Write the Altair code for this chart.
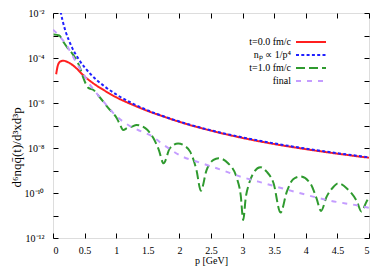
import altair as alt
import pandas as pd

series_names = ["t=0.0 fm/c", "nₚ ∝ 1/p⁴", "t=1.0 fm/c", "final"]

red_p = [0.05, 0.08, 0.12, 0.16, 0.2, 0.27, 0.37, 0.48, 0.64, 0.8, 1.0, 1.27, 1.53, 1.7, 2.0, 2.5, 3.0, 3.5, 4.0, 4.5, 5.0]
red_v = [1.9e-5, 5.0e-5, 7.1e-5, 7.6e-5, 7.2e-5, 5.8e-5, 3.5e-5, 1.7e-5, 7.4e-6, 3.8e-6, 1.8e-6, 8.1e-7, 4.1e-7, 2.8e-7, 1.45e-7, 5.9e-8, 2.8e-8, 1.5e-8, 8.9e-9, 5.6e-9, 3.7e-9]

blue_p = [0.12, 0.15, 0.2, 0.25, 0.3, 0.4, 0.5, 0.6, 0.7, 0.8, 1.0, 1.25, 1.5, 2.0, 2.5, 3.0, 3.5, 4.0, 4.5, 5.0]
blue_v = [1.15e-2, 4.8e-3, 1.5e-3, 6.2e-4, 2.96e-4, 9.4e-5, 3.84e-5, 1.85e-5, 1.0e-5, 5.9e-6, 2.4e-6, 9.8e-7, 4.7e-7, 1.5e-7, 6.1e-8, 2.96e-8, 1.6e-8, 9.4e-9, 5.9e-9, 3.84e-9]

green_p = [0.01, 0.1, 0.16, 0.23, 0.3, 0.43, 0.48, 0.56, 0.64, 0.74, 0.88, 1.01, 1.06, 1.11, 1.18, 1.25, 1.32, 1.46, 1.59, 1.67, 1.75, 1.85, 1.98, 2.08, 2.17, 2.27, 2.34, 2.43, 2.54, 2.62, 2.77, 2.91, 2.97, 3.01, 3.05, 3.1, 3.17, 3.28, 3.38, 3.49, 3.6, 3.7, 3.8, 3.91, 4.07, 4.17, 4.24, 4.33, 4.44, 4.51, 4.65, 4.81, 4.88, 4.96, 5.0]
green_v = [1.1e-3, 1.0e-3, 5.4e-4, 2.8e-4, 1.66e-4, 3.5e-5, 1.3e-5, 4.7e-6, 3.8e-6, 1.8e-6, 5.8e-7, 2.1e-7, 1.1e-7, 6.3e-8, 7.9e-8, 8.9e-8, 1.05e-7, 7.6e-8, 2.7e-8, 8.9e-9, 2.1e-9, 9.8e-9, 1.6e-8, 1.26e-8, 6.9e-9, 1.05e-9, 1.26e-10, 1.05e-9, 2.95e-9, 3.5e-9, 2.1e-9, 4.5e-10, 8e-11, 6.3e-12, 6.3e-11, 2.5e-10, 7.6e-10, 1.4e-9, 8.9e-10, 2.7e-10, 1.35e-11, 1.15e-10, 4.1e-10, 5.4e-10, 2.7e-10, 5.8e-11, 1.6e-11, 6.9e-11, 1.9e-10, 2.7e-10, 1.6e-10, 4.1e-11, 1.5e-11, 4.1e-11, 6.3e-11]

purple_p = [0.0, 0.11, 0.22, 0.3, 0.4, 0.5, 0.6, 0.69, 0.82, 0.98, 1.19, 1.4, 1.53, 1.77, 2.06, 2.27, 2.59, 3.0, 3.25, 3.86, 4.33, 4.91, 5.0]
purple_v = [1.8e-3, 8.9e-4, 3.5e-4, 1.4e-4, 4.5e-5, 1.6e-5, 5.6e-6, 2.7e-6, 9.8e-7, 3.0e-7, 1.05e-7, 5.4e-8, 3.8e-8, 1.26e-8, 4.0e-9, 2.5e-9, 1.26e-9, 5.0e-10, 3.2e-10, 1.07e-10, 4.9e-11, 2.5e-11, 2.2e-11]

x_ticks = [0, 0.5, 1, 1.5, 2, 2.5, 3, 3.5, 4, 4.5, 5]
y_ticks = [1e-12, 1e-11, 1e-10, 1e-9, 1e-8, 1e-7, 1e-6, 1e-5, 1e-4, 1e-3, 1e-2]
y_tick_labels = ["10⁻¹²", "", "10⁻¹⁰", "", "10⁻⁸", "", "10⁻⁶", "", "10⁻⁴", "", "10⁻²"]

colors = ["#ff1f1f", "#2020ff", "#2f9a2f", "#c49cff"]
dashes = [[1, 0], [3, 2.3], [9, 4], [5, 6]]

rows = []
for name, ps, vs in [(series_names[0], red_p, red_v), (series_names[1], blue_p, blue_v),
                     (series_names[2], green_p, green_v), (series_names[3], purple_p, purple_v)]:
    for p, v in zip(ps, vs):
        rows.append({"series": name, "p": p, "v": v})
df = pd.DataFrame(rows)

FONT = "Liberation Serif"
label_js = "[" + ",".join("'%s'" % s for s in y_tick_labels) + "][round(log(datum.value)/LN10)+12]"

x_scale = alt.Scale(domain=[0, 5], nice=False, zero=False)
y_scale = alt.Scale(type="log", domain=[1e-12, 1e-2], nice=False)
inward = alt.ExprRef(expr="-5")

legend = alt.Legend(title=None, orient="none", legendX=252, legendY=23,
                    symbolType="M-3,0H3", symbolSize=100, symbolStrokeWidth=2,
                    labelFont=FONT, labelFontSize=10, labelColor="black",
                    labelAlign="right", labelOffset=alt.ExprRef(expr="-26"),
                    rowPadding=2, padding=0)

lines = alt.Chart(df).mark_line(strokeWidth=2, clip=True, interpolate="monotone").encode(
    x=alt.X("p:Q", scale=x_scale, title="p [GeV]",
            axis=alt.Axis(orient="bottom", values=x_ticks, format="~g", tickSize=inward,
                          labelPadding=12, domain=False, tickColor="black",
                          labelFont=FONT, labelFontSize=10, labelColor="black",
                          titleFont=FONT, titleFontSize=10, titleFontWeight="normal",
                          titleColor="black", titlePadding=0, grid=False)),
    y=alt.Y("v:Q", scale=y_scale, title="d⁶nqq̄(t)/d³xd³p",
            axis=alt.Axis(orient="left", values=y_ticks, labelExpr=label_js, tickSize=inward,
                          labelPadding=14, domain=False, tickColor="black",
                          labelFont=FONT, labelFontSize=10, labelColor="black",
                          titleFont=FONT, titleFontSize=13, titleFontWeight="normal",
                          titleColor="black", titlePadding=1,
                          titleAlign="left", titleAngle=270, titleBaseline="bottom",
                          titleY=174, grid=False)),
    color=alt.Color("series:N", scale=alt.Scale(domain=series_names, range=colors), legend=legend),
    strokeDash=alt.StrokeDash("series:N", scale=alt.Scale(domain=series_names, range=dashes), legend=legend),
)

mirror = alt.Chart(df).mark_line(opacity=0).encode(
    x=alt.X("p:Q", scale=x_scale,
            axis=alt.Axis(orient="top", values=x_ticks, labels=False, title=None, tickSize=inward,
                          domain=False, tickColor="black", grid=False)),
    y=alt.Y("v:Q", scale=y_scale,
            axis=alt.Axis(orient="right", values=y_ticks, labels=False, title=None, tickSize=inward,
                          domain=False, tickColor="black", grid=False)),
    detail="series:N",
)

chart = alt.layer(lines, mirror).resolve_axis(x="independent", y="independent").properties(
    width=316, height=225,
    padding={"left": 45, "top": 5, "right": 4, "bottom": 30},
    autosize=alt.AutoSizeParams(type="none"),
).configure_view(stroke="black", strokeWidth=1).configure(background="white")

chart.save("out.html", embed_options={"renderer": "svg", "actions": False})
